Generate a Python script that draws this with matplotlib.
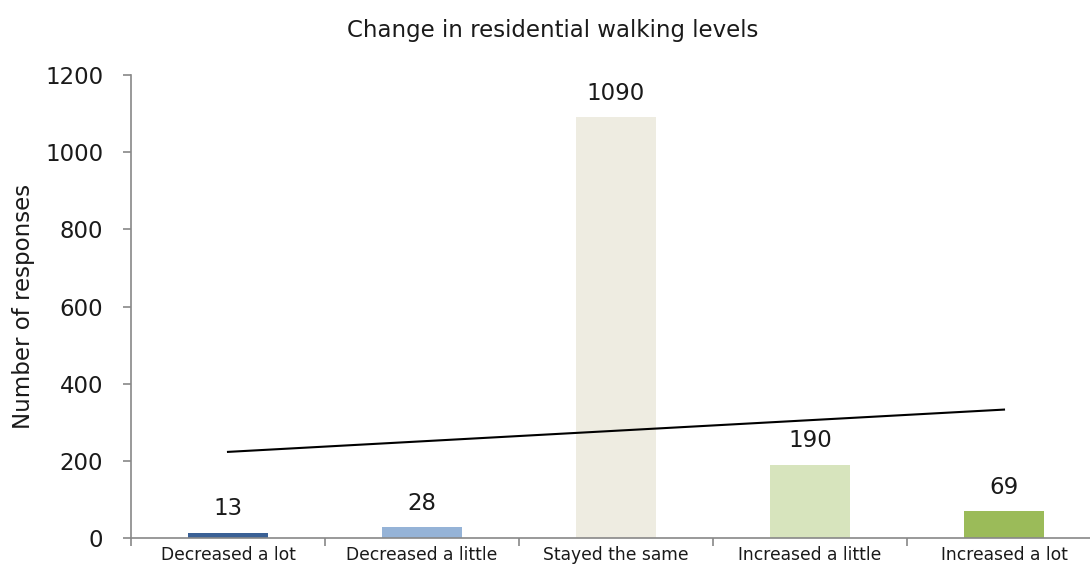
import numpy as np
import matplotlib
matplotlib.use("Agg")
import matplotlib.pyplot as plt

categories = ["Decreased a lot", "Decreased a little", "Stayed the same",
              "Increased a little", "Increased a lot"]
values = [13, 28, 1090, 190, 69]
colors = ["#3A6095", "#95B3D7", "#EEECE1", "#D7E4BD", "#9BBB59"]
yticks = [0, 200, 400, 600, 800, 1000, 1200]
title = "Change in residential walking levels"
ylabel = "Number of responses"

plt.rcParams['font.family'] = ['DejaVu Sans']

fig = plt.figure(figsize=(10.9, 5.7), dpi=100)
ax = fig.add_axes([131/1090, 1 - 538/570, 970/1090, (538 - 75)/570])

x = np.arange(len(categories))
bars = ax.bar(x, values, width=0.41, color=colors, zorder=2)

for xi, v in zip(x, values):
    ax.annotate(str(v), (xi, v), xytext=(0, 9), textcoords="offset points",
                ha="center", va="bottom", fontsize=16.5, color="#1a1a1a")

# linear trendline
coef = np.polyfit(x, values, 1)
ax.plot([x[0], x[-1]], np.polyval(coef, [x[0], x[-1]]), color="black",
        lw=1.5, zorder=3)

ax.set_xlim(-0.5, len(categories) - 0.5)
ax.set_ylim(0, 1200)
ax.set_yticks(yticks)
ax.set_yticklabels([str(t) for t in yticks], fontsize=16.5, color="#1a1a1a")
ax.set_xticks(x)
ax.set_xticklabels(categories, fontsize=12.3, color="#1a1a1a")
ax.set_xticks(np.arange(len(categories) + 1) - 0.5, minor=True)
ax.tick_params(axis="x", which="major", length=0, pad=6)
ax.tick_params(axis="x", which="minor", length=6, color="#888888", width=1.2)
ax.tick_params(axis="y", length=6, color="#888888", width=1.2, pad=14)

for s in ["top", "right"]:
    ax.spines[s].set_visible(False)
for s in ["left", "bottom"]:
    ax.spines[s].set_color("#888888")
    ax.spines[s].set_linewidth(1.2)

ax.set_ylabel(ylabel, fontsize=16.5, color="#1a1a1a", labelpad=7)
fig.text(553/1090, 1 - 30/570, title, ha="center", va="center",
         fontsize=16.5, color="#1a1a1a")

fig.savefig("out.png", dpi=100)
